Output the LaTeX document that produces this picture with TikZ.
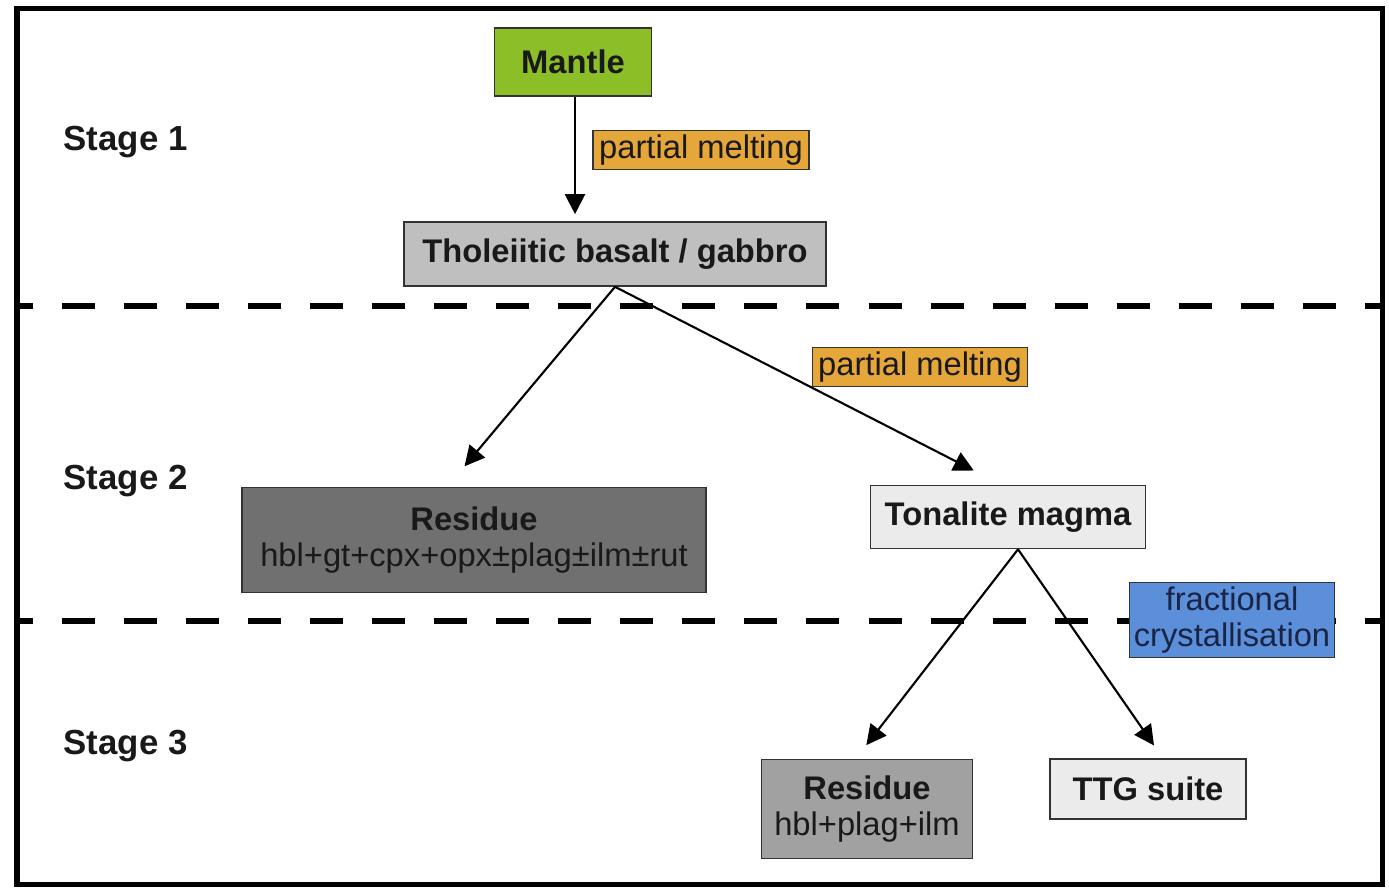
\documentclass[tikz,border=0pt]{standalone}
\usepackage{fontspec}
\setmainfont{Liberation Sans}
\usetikzlibrary{arrows.meta,calc}

\definecolor{mantlegreen}{HTML}{8CBE28}
\definecolor{meltorange}{HTML}{E5A63A}
\definecolor{fracblue}{HTML}{5B8FD9}
\definecolor{txtnavy}{HTML}{1A2445}
\newcommand{\dfont}{\fontsize{9.3}{10.5}\selectfont}

\begin{document}
\begin{tikzpicture}[x=0.01cm,y=-0.01cm,>={Triangle[length=2mm,width=2mm]},
   font=\dfont,
   bx/.style={draw=black!80,line width=0.45pt,inner sep=0pt,align=center,text=black!90},
   bxb/.style={bx,font=\dfont\bfseries},
   lab/.style={draw=black!80,line width=0.45pt,inner sep=0pt,align=center,text=black!90},
   stg/.style={anchor=west,inner sep=0pt,font=\fontsize{9.9}{11}\selectfont\bfseries,text=black!90},
   arr/.style={->,line width=0.6pt,shorten >=0.07cm},
   sep/.style={line width=0.065cm,dash pattern=on 0.33cm off 0.29cm,dash phase=0.17cm}]
  \useasboundingbox (0,0) rectangle (1389,887);
  \draw[line width=0.05cm] (17,8) rectangle (1382,884);
  \draw[sep] (17,306) -- (1382,306);
  \draw[sep] (17,621) -- (1382,621);
  % stages
  \node[stg] (s1) at (63,142) {Stage 1};
  \node[stg] (s2) at (63,481) {Stage 2};
  \node[stg] (s3) at (63,746) {Stage 3};
  % boxes
  \node[bxb,fill=mantlegreen,minimum width=1.57cm,minimum height=0.68cm] (mantle) at (573,62) {Mantle};
  \node[bxb,fill=black!25,minimum width=4.22cm,minimum height=0.64cm] (thol) at (615,254) {Tholeiitic basalt / gabbro};
  \node[bx,fill=black!56,minimum width=4.64cm,minimum height=1.05cm] (res1) at (474,540) {\textbf{Residue}\\hbl+gt+cpx+opx±plag±ilm±rut};
  \node[bxb,fill=black!8,minimum width=2.75cm,minimum height=0.63cm] (tmag) at (1008,517) {Tonalite magma};
  \node[bx,fill=black!37,minimum width=2.11cm,minimum height=0.99cm] (res2) at (867,809) {\textbf{Residue}\\hbl+plag+ilm};
  \node[bxb,fill=black!8,minimum width=1.96cm,minimum height=0.60cm] (ttg) at (1148,789) {TTG suite};
  % arrows
  \draw[arr] ($(mantle.south)+(2,0)$) -- ($(mantle.south |- thol.north)+(2,0)$);
  \draw[arr] (thol.south) -- ($(res1.north)+(-14,-15)$);
  \draw[arr] (thol.south) -- ($(tmag.north)+(-28,-11)$);
  \draw[arr] ($(tmag.south)+(10,0)$) -- ($(res2.north)+(-5,-8)$);
  \draw[arr] ($(tmag.south)+(10,0)$) -- ($(ttg.north)+(10,-7)$);
  % process labels
  \node[lab,fill=meltorange,minimum width=2.16cm,minimum height=0.39cm] (pm1) at (701,150) {partial melting};
  \node[lab,fill=meltorange,minimum width=2.15cm,minimum height=0.39cm] (pm2) at (920,367) {partial melting};
  \node[lab,fill=fracblue,text=txtnavy,minimum width=2.05cm,minimum height=0.75cm] (fc) at (1232,620) {fractional\\crystallisation};
\end{tikzpicture}
\end{document}
